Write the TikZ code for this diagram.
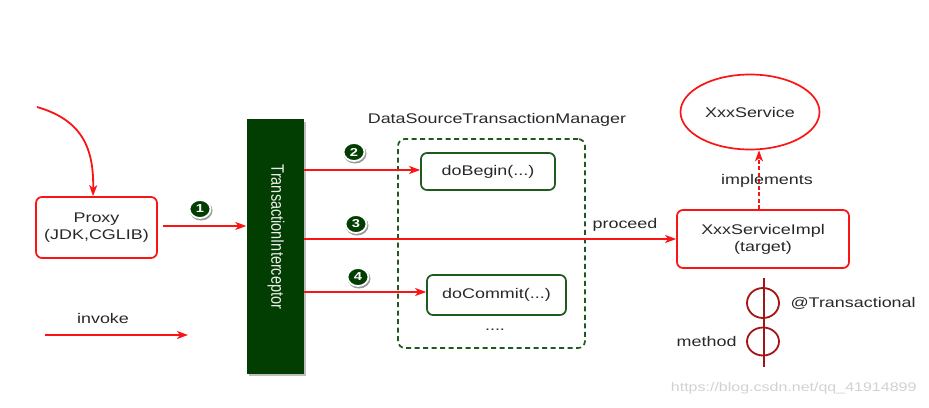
\documentclass[tikz,border=0pt]{standalone}
\usepackage{fontspec}
\setmainfont{Liberation Sans}[FakeStretch=1.28]
\newfontfamily\uprightfont{Liberation Sans}
\usetikzlibrary{arrows.meta,shapes.geometric,calc}
\definecolor{flow}{RGB}{250,20,20}
\definecolor{deepgreen}{RGB}{2,62,2}
\definecolor{framegreen}{RGB}{30,90,30}
\definecolor{pinred}{RGB}{165,20,20}
\definecolor{ink}{RGB}{40,40,40}
\tikzset{
  base/.style={font=\fontsize{14}{17}\selectfont, text=ink},
  flowarrow/.style={draw=flow, line width=1.8pt, -{Stealth[length=11pt,width=8pt,inset=3pt]}},
  redbox/.style={base, draw=flow, line width=1.7pt, rounded corners=6pt, align=center, inner sep=0pt},
  greenbox/.style={base, draw=framegreen, line width=1.7pt, rounded corners=6pt, inner sep=0pt},
  badge/.style={ellipse, fill=deepgreen, draw=white, line width=1.8pt, minimum width=21pt, minimum height=18pt, inner sep=0pt,
    text=white, font=\bfseries\fontsize{11.5}{11.5}\selectfont},
  badgeshade/.style={ellipse, fill=black!40, minimum width=23pt, minimum height=20pt, inner sep=0pt},
  pin/.style={draw=pinred, line width=1.8pt},
}
\begin{document}
\begin{tikzpicture}[x=1pt, y=-1pt]
  \useasboundingbox (0,0) rectangle (929,407);

  % proxy entry
  \node[redbox, minimum width=121pt, minimum height=61pt] (proxy) at (96.5,227.5) {Proxy\\(JDK,CGLIB)};
  \coordinate (caller) at (37,107);
  \draw[flowarrow] (caller) .. controls (82,120) and (94,148) .. (proxy.north -| 93,0);

  % interceptor column
  \fill[black!25] (249,122) rectangle (306,376);
  \node[fill=deepgreen, minimum width=57pt, minimum height=255pt, inner sep=0pt] (ti) at (275,246) {};
  \node[rotate=-90, text=white!92!black, font=\uprightfont\fontsize{14.5}{15}\selectfont] (tilabel) at (276,237)
    {\scalebox{1}[1.25]{TransactionInterceptor}};

  % transaction manager
  \node[base, draw=framegreen, line width=1.7pt, dash pattern=on 5pt off 3.5pt, rounded corners=7pt,
        minimum width=187pt, minimum height=209pt] (dstm) at (491.5,243.5) {};
  \node[base] (dstmlabel) at (497,120) {DataSourceTransactionManager};
  \node[greenbox, minimum width=134pt, minimum height=37pt] (begin) at (488,171.5) {doBegin(...)};
  \node[greenbox, minimum width=139pt, minimum height=40pt] (commit) at (496.5,295) {doCommit(...)};
  \node[base] (dots) at (495,330) {....};

  % target
  \node[redbox, minimum width=172pt, minimum height=58pt] (impl) at (763,239) {XxxServiceImpl\\(target)};
  \node[base, ellipse, draw=flow, line width=1.7pt, minimum width=139pt, minimum height=75pt, inner sep=0pt] (svc) at (750,112) {XxxService};
  \draw[draw=flow, line width=1.8pt, dash pattern=on 4pt off 2.5pt, -{Stealth[length=11pt,width=8pt,inset=3pt]}]
    (impl.north -| 759,0) -- (svc.south -| 759,0);
  \node[base] (impltext) at (767,181) {implements};

  % calls
  \draw[flowarrow, shorten <=5pt] (proxy.east |- 0,226) -- (ti.west |- 0,226);
  \draw[flowarrow] (ti.east |- 0,170) -- (begin.west |- 0,170);
  \draw[flowarrow] (ti.east |- impl.west) -- (impl.west);
  \draw[flowarrow] (ti.east |- 0,292) -- (commit.west |- 0,292);
  \node[base] (proceed) at (625,225) {proceed};

  % step badges
  \foreach \n/\x/\y in {1/200/209, 2/354/152, 3/356/224, 4/358/277}{
    \node[badgeshade] at (\x+1,\y+1.5) {};
    \node[badge] (b\n) at (\x,\y) {\n};
  }

  % legend
  \coordinate (lgA) at (45,335);
  \coordinate (lgB) at (188,335);
  \draw[flowarrow] (lgA) -- (lgB);
  \node[base] (invoke) at (103,318) {invoke};

  % annotated method
  \coordinate (pinTop) at (764,278);
  \coordinate (pinBot) at (764,367);
  \draw[pin] (pinTop) -- (pinBot);
  \draw[pin] (763,303) ellipse (16 and 15);
  \draw[pin] (763,341.5) ellipse (16 and 14);
  \node[base, anchor=west] (anno) at (787,303) {@Transactional};
  \node[base, anchor=east] (meth) at (740,341) {method};

  \node[base, anchor=east, text=black!18, font=\fontsize{12.5}{15}\selectfont] (mark) at (920,388) {https://blog.csdn.net/qq\_41914899};
\end{tikzpicture}
\end{document}
